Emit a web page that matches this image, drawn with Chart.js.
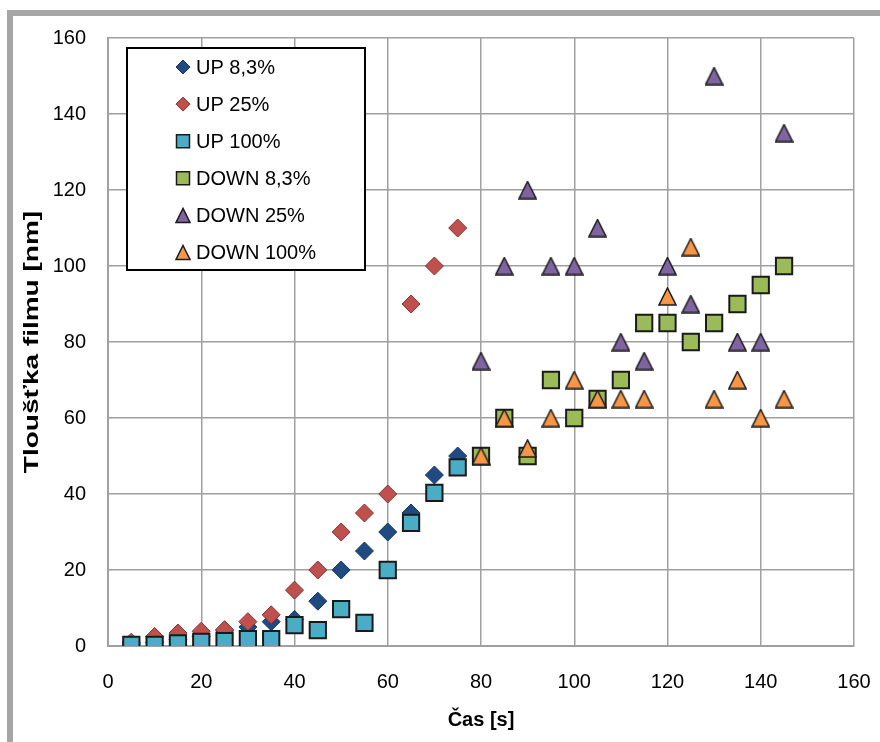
<!DOCTYPE html>
<html>
<head>
<meta charset="utf-8">
<script src="https://cdn.jsdelivr.net/npm/chart.js@4.4.1/dist/chart.umd.min.js"></script>
<style>
  html, body { margin: 0; padding: 0; background: #ffffff; }
  #wrap { position: relative; width: 880px; height: 742px; overflow: hidden; }
  #frame { position: absolute; left: 7px; top: 10px; right: 0; bottom: 0;
           border-top: 6px solid #a6a6a6; border-left: 6px solid #a6a6a6; }
  #c { position: absolute; left: 0; top: 0; }
</style>
</head>
<body>
<div id="wrap">
  <div id="frame"></div>
  <canvas id="c" width="880" height="742"></canvas>
</div>
<script>
// Measurement times [s]
const timeUp   = [5, 10, 15, 20, 25, 30, 35, 40, 45, 50, 55, 60, 65, 70, 75];
const timeDown = [80, 85, 90, 95, 100, 105, 110, 115, 120, 125, 130, 135, 140, 145];

// Film thickness [nm]
const up83    = [0.5, 1, 1.8, 2.5, 4, 5, 6.4, 7, 11.8, 20, 25, 30, 35, 45, 50];
const up25    = [1, 2.5, 3.4, 3.9, 4.3, 6.4, 8.2, 14.7, 20, 30, 35, 40, 90, 100, 110];
const up100   = [0.3, 0.3, 0.7, 1.1, 1.3, 1.8, 1.8, 5.5, 4.2, 9.7, 6.1, 20, 32.4, 40.3, 47];
const down83  = [50, 60, 50, 70, 60, 65, 70, 85, 85, 80, 85, 90, 95, 100];
const down25  = [75, 100, 120, 100, 100, 110, 80, 75, 100, 90, 150, 80, 80, 135];
const down100 = [50, 60, 52, 60, 70, 65, 65, 65, 92, 105, 65, 70, 60, 65];

const seriesLabels = ['UP 8,3%', 'UP 25%', 'UP 100%', 'DOWN 8,3%', 'DOWN 25%', 'DOWN 100%'];
const xTickValues = [0, 20, 40, 60, 80, 100, 120, 140, 160];
const yTickValues = [0, 20, 40, 60, 80, 100, 120, 140, 160];

const FONT = '"Liberation Sans", Arial, sans-serif';

function pairs(xs, ys) { return ys.map((y, i) => ({ x: xs[i], y })); }

// Triangle marker sprite with its box centred on the point
function triangleSprite(fill, size) {
  const c = document.createElement('canvas');
  c.width = size; c.height = size;
  const g = c.getContext('2d');
  g.beginPath();
  g.moveTo(size / 2, 1);
  g.lineTo(size - 1, size - 1);
  g.lineTo(1, size - 1);
  g.closePath();
  g.fillStyle = fill; g.fill();
  g.lineWidth = 1.5; g.strokeStyle = '#1a1a1a'; g.stroke();
  return c;
}

const colors = ['#1f4b82', '#c0504d', '#4bacc6', '#9bbb59', '#8064a2', '#f79646'];
const edges  = ['#16365f', '#7d3432', '#1a1a1a', '#1a1a1a', '#1a1a1a', '#1a1a1a'];
const shapes = ['diamond', 'diamond', 'square', 'square', 'triangle', 'triangle'];
const SERIES_COUNT = 6;

const datasets = [
  { label: seriesLabels[0], data: pairs(timeUp, up83), pointStyle: 'rectRot', pointRadius: 9, borderWidth: 1 },
  { label: seriesLabels[1], data: pairs(timeUp, up25), pointStyle: 'rectRot', pointRadius: 9, borderWidth: 1 },
  { label: seriesLabels[2], data: pairs(timeUp, up100), pointStyle: 'rect', pointRadius: 11.5, borderWidth: 2 },
  { label: seriesLabels[3], data: pairs(timeDown, down83), pointStyle: 'rect', pointRadius: 11.5, borderWidth: 2 },
  { label: seriesLabels[4], data: pairs(timeDown, down25), pointStyle: triangleSprite(colors[4], 19), pointRadius: 9, borderWidth: 0 },
  { label: seriesLabels[5], data: pairs(timeDown, down100), pointStyle: triangleSprite(colors[5], 19), pointRadius: 9, borderWidth: 0 }
].map((ds, i) => Object.assign(ds, {
  backgroundColor: colors[i],
  borderColor: edges[i],
  pointHoverRadius: ds.pointRadius,
  order: SERIES_COUNT - i   // later series are painted on top
}));

// Legend box drawn inside the plot area
const insideLegend = {
  id: 'insideLegend',
  afterDatasetsDraw(chart, args, o) {
    const { ctx, chartArea } = chart;
    const x0 = Math.round(chartArea.left + o.offsetX);
    const y0 = Math.round(chartArea.top + o.offsetY);
    ctx.save();
    ctx.fillStyle = '#ffffff';
    ctx.fillRect(x0, y0, o.width, o.height);
    ctx.lineWidth = 2;
    ctx.strokeStyle = '#000000';
    ctx.strokeRect(x0, y0, o.width, o.height);
    chart.data.datasets.forEach((ds, i) => {
      const cx = x0 + o.markerX;
      const cy = y0 + o.firstRow + i * o.rowGap;
      const h = o.markerSize / 2;
      ctx.beginPath();
      if (shapes[i] === 'diamond') {
        ctx.moveTo(cx, cy - h); ctx.lineTo(cx + h, cy); ctx.lineTo(cx, cy + h); ctx.lineTo(cx - h, cy);
      } else if (shapes[i] === 'square') {
        ctx.rect(cx - h + 0.5, cy - h + 0.5, o.markerSize - 1, o.markerSize - 1);
      } else {
        ctx.moveTo(cx, cy - h); ctx.lineTo(cx + h, cy + h); ctx.lineTo(cx - h, cy + h);
      }
      ctx.closePath();
      ctx.fillStyle = colors[i];
      ctx.fill();
      ctx.lineWidth = shapes[i] === 'diamond' ? 1 : 1.5;
      ctx.strokeStyle = edges[i];
      ctx.stroke();
      ctx.fillStyle = '#000000';
      ctx.font = '20px ' + FONT;
      ctx.textAlign = 'left';
      ctx.textBaseline = 'middle';
      ctx.fillText(ds.label, x0 + o.textX, cy + 1);
    });
    ctx.restore();
  }
};

// Stretch the rotated y-axis title along its reading direction
const stretchedYTitle = {
  id: 'stretchedYTitle',
  beforeDraw(chart, args, o) {
    const s = chart.scales.y;
    if (!s || s._stretchWrapped) return;
    const orig = s.drawTitle;
    s.drawTitle = function () {
      const ctx = this.ctx;
      const cy = (this.top + this.bottom) / 2;
      ctx.save();
      ctx.translate(0, cy);
      ctx.scale(1, o.factor);
      ctx.translate(0, -cy);
      orig.call(this);
      ctx.restore();
    };
    s._stretchWrapped = true;
  }
};

new Chart(document.getElementById('c'), {
  type: 'scatter',
  data: { datasets },
  plugins: [insideLegend, stretchedYTitle],
  options: {
    responsive: false,
    animation: false,
    events: [],
    layout: { padding: { left: 0, top: 38, right: 26, bottom: 0 } },
    plugins: {
      legend: { display: false },
      tooltip: { enabled: false },
      insideLegend: { offsetX: 19, offsetY: 10, width: 238, height: 222,
                      markerX: 56, textX: 69, firstRow: 19, rowGap: 37.1, markerSize: 14 },
      stretchedYTitle: { factor: 1.4 }
    },
    scales: {
      x: {
        type: 'linear',
        position: 'bottom',
        min: 0, max: 160,
        afterBuildTicks: s => { s.ticks = xTickValues.map(v => ({ value: v })); },
        afterFit: s => { s.height = 96; s.paddingLeft = 0; s.paddingRight = 0; },
        grid: { color: '#a0a0a0', lineWidth: 1.5, drawTicks: false },
        border: { display: true, color: '#a0a0a0', width: 2 },
        ticks: { padding: 24, color: '#000000', font: { family: FONT, size: 20 } },
        title: { display: true, text: 'Čas [s]', color: '#000000',
                 font: { family: FONT, size: 20, weight: 'bold' },
                 padding: { top: 0, bottom: 10 } }
      },
      y: {
        type: 'linear',
        position: 'left',
        min: 0, max: 160,
        afterBuildTicks: s => { s.ticks = yTickValues.map(v => ({ value: v })); },
        afterFit: s => { s.width = 108; s.paddingTop = 0; s.paddingBottom = 0; },
        grid: { color: '#a0a0a0', lineWidth: 1.5, drawTicks: false },
        border: { display: true, color: '#a0a0a0', width: 2 },
        ticks: { padding: 22, color: '#000000', font: { family: FONT, size: 20 } },
        title: { display: true, text: 'Tloušťka filmu [nm]', color: '#000000',
                 font: { family: FONT, size: 20, weight: 'bold' },
                 padding: { top: 20, bottom: 0 } }
      }
    }
  }
});
</script>
</body>
</html>
